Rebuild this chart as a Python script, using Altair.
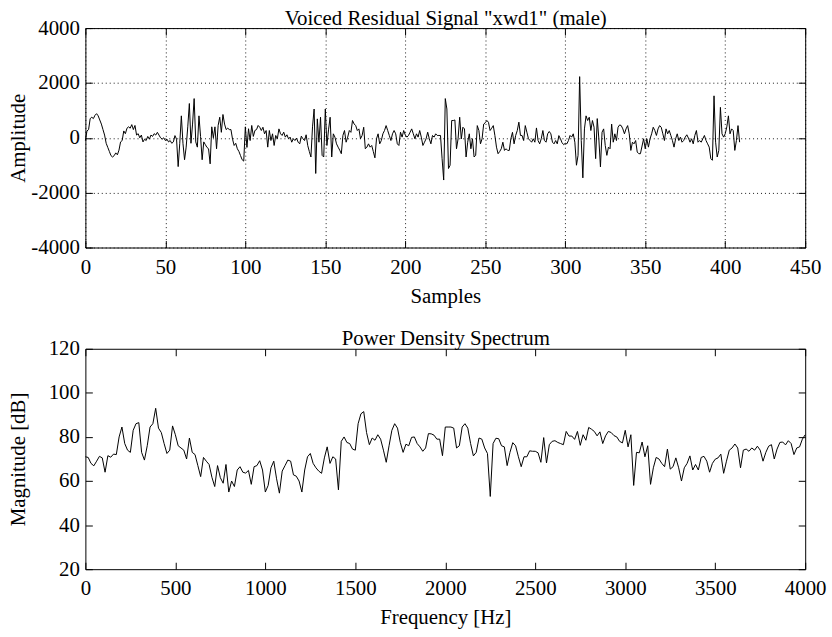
import altair as alt
import pandas as pd

FONT = "Liberation Serif"
FS = 21

# ---- top panel: voiced residual signal (amplitude per sample) ----
residual = [
    -100, 250, 300, 700, 750, 700, 820, 880, 800, 650,
    500, 300, 100, -200, -350, -500, -650, -700, -650, -550,
    -620, -450, -150, -100, 250, 150, 350, 400, 350, 480,
    300, 450, 100, 150, 0, 100, -150, -50, -100, 50,
    -50, 100, 50, 150, 100, 200, 100, 0, -50, 0,
    -100, -50, -150, -100, -200, -150, 80, -50, -1050, -200,
    800, -200, -800, -340, 400, 1250, -200, 500, 1430, -150,
    -340, 800, 50, -800, -150, -250, -350, -400, -950, 400,
    0, 400, -400, 450, 750, 200, 850, 500, 300, 350,
    300, 300, -50, -280, -200, -400, -500, -650, -800, -850,
    400, -350, 330, -100, 450, 50, 270, 300, 450, 385,
    265, 385, 145, 265, -340, 265, -100, 145, -280, 85,
    -35, 325, 145, 85, 205, 25, 110, -35, 25, -160,
    -35, -100, -10, -160, -220, 60, -35, -100, 110, -280,
    -500, -700, 400, 1050, -1300, 690, -160, 750, -640, -700,
    1050, -280, 290, 750, -700, 145, 25, -220, -340, -450,
    -580, 85, 265, -160, 25, 265, 200, 630, 505, 445,
    265, 325, -35, 85, 385, -400, -340, -220, -340, -280,
    -500, -730, -35, 145, -220, -100, 145, 265, 445, 265,
    85, -100, 145, 265, 145, -220, -280, 205, 25, 265,
    100, 25, 85, 205, 325, 145, -35, 145, 25, 265,
    25, -280, -160, -35, 205, -35, -220, 85, 25, 145,
    85, 85, 85, -760, -1540, 1430, 1050, -1120, -1000, 630,
    630, 650, -400, -35, 750, -40, 385, 325, -700, -160,
    145, -400, -35, -700, -640, 445, 265, -220, -35, 500,
    550, 630, 565, 265, 350, 445, 85, -340, -580, -500,
    -400, -160, -460, -400, -460, -460, -35, 200, -220, 85,
    265, 570, 85, 85, -100, 445, 205, -35, -100, -160,
    -35, -160, 360, -100, -220, -35, 265, -100, -160, 145,
    230, 145, -160, -220, -100, -220, 80, -35, -180, -250,
    -200, -220, -100, 85, 25, 145, -160, -1000, -640, 2230,
    -100, -1460, 325, 800, 630, 750, 265, 630, 385, -760,
    700, -35, -1060, 205, 325, -280, -640, -340, -400, 500,
    -160, 145, -100, 385, 470, 445, 325, 145, 325, 445,
    145, -460, -160, -220, -100, -520, -580, -580, -300, -35,
    -400, -35, -340, -35, 145, 385, 265, 85, 325, 445,
    385, 145, -100, 325, 145, 265, 85, -100, -340, -35,
    145, -100, 25, -160, -100, 25, 110, -10, -160, -35,
    -220, 85, 265, -160, -100, -160, -35, 85, -100, -220,
    -340, -760, -820, 1530, -160, -700, -460, 1110, 145, 25,
    145, 400, 800, 145, 325, 265, -460, -100, 445, -160,
]

# ---- bottom panel: power density spectrum in dB (257 bins, 0..4000 Hz) ----
spectrum_db = [
    71, 70.7, 68, 66.9, 69, 71.2, 70.5, 64, 71.5, 70.8,
    72.2, 72, 80, 84.5, 77, 74, 73, 83, 86, 86.5,
    73, 69.5, 76, 84.5, 86, 93, 84, 82, 77, 72.5,
    74, 85, 81, 76, 75, 74, 70, 79.5, 73, 72,
    67, 62, 70.7, 69, 67.5, 61.7, 57.5, 67, 61.5, 59,
    67.5, 55, 60, 57.5, 65, 66.5, 64, 63.6, 64.8, 58.5,
    66.5, 67, 69.2, 65, 55, 58, 66, 69, 61, 54.5,
    64.5, 67, 69.5, 69, 62.8, 62.2, 60, 55, 65, 71,
    72.5, 68, 66, 64.5, 63.5, 70.5, 75.5, 68, 71, 70,
    56, 78, 80, 77.5, 77, 74.5, 74, 86, 90.5, 91.5,
    82, 76.5, 79.5, 78.5, 81, 79, 74, 68.5, 76, 83,
    86, 84, 77.5, 73, 76.7, 76, 79.8, 80, 77, 75.5,
    73.5, 75, 81.5, 81.4, 80.8, 79, 79, 71.5, 84.5, 84.5,
    84.5, 84, 75, 76, 84.5, 86, 84, 77, 71.4, 73,
    79.5, 79, 75, 72.5, 53, 77, 79.4, 79.2, 76, 75.5,
    67, 73, 77.4, 76, 71, 66.5, 71, 71, 73.7, 73.5,
    73.5, 72.8, 68.5, 79.7, 68.2, 76.5, 78, 78.3, 77.5, 77,
    76.5, 82.5, 80.4, 80.4, 78.9, 82.5, 76.2, 81, 78.5, 84.3,
    83.5, 82.5, 80.5, 82.3, 77, 80.5, 82.5, 82, 80.6, 80,
    78, 77.3, 83, 75.5, 81, 58, 73, 72.8, 77.7, 71,
    76, 58.5, 66, 70.7, 70, 68, 66.5, 74.5, 65.4, 66.5,
    70.5, 66, 60, 66, 68, 71.4, 65, 67.5, 65, 70.7,
    71.2, 69, 64, 68, 69.9, 70.5, 72.2, 63.5, 69, 74,
    75, 76.8, 75, 66, 74, 74.5, 73.5, 75, 74, 75.8,
    74, 69, 73, 75.8, 76.5, 70, 74.5, 77.5, 77.7, 76.4,
    78.3, 77, 72, 75, 75.5, 79, 81,
]

samples = list(range(len(residual)))
freq_hz = [k * 4000 / 256 for k in range(len(spectrum_db))]

top_x_ticks = [0, 50, 100, 150, 200, 250, 300, 350, 400, 450]
top_y_ticks = [-4000, -2000, 0, 2000, 4000]
bot_x_ticks = [0, 500, 1000, 1500, 2000, 2500, 3000, 3500, 4000]
bot_y_ticks = [20, 40, 60, 80, 100, 120]

df_top = pd.DataFrame({"n": samples, "amp": residual})
df_bot = pd.DataFrame({"f": freq_hz, "db": spectrum_db})

W = 725
H1 = 221
H2 = 222
T = 7  # inward tick length


def axis(orient, values, labels=True, grid=False, **extra):
    kw = dict(
        orient=orient, values=values, offset=-T, tickSize=T, tickColor="#000",
        tickWidth=1, domain=False, labels=labels, grid=grid,
        labelExpr="'' + datum.value",
        labelFont=FONT, labelFontSize=FS, labelColor="#000",
        labelFlush=False, labelOverlap=False, labelBound=False,
        titleFont=FONT, titleFontSize=FS, titleFontWeight="normal", titleColor="#000",
    )
    if grid:
        kw.update(gridColor="#000", gridDash=[1, 3], gridWidth=1, gridOpacity=0.9)
    if orient in ("bottom", "top"):
        kw.update(labelPadding=9)
    else:
        kw.update(labelPadding=6)
    kw.update(extra)
    return alt.Axis(**kw)


def panel(df, xf, yf, xdom, ydom, xt, yt, h, title, xtitle, ytitle, grid):
    xs = alt.Scale(domain=xdom, nice=False, zero=False)
    ys = alt.Scale(domain=ydom, nice=False, zero=False)
    main = alt.Chart(df).mark_line(color="#000", strokeWidth=1).encode(
        x=alt.X(f"{xf}:Q", scale=xs, title=xtitle,
                axis=axis("bottom", xt, grid=grid, titleBaseline="alphabetic",
                          titleY=62, titleX=W / 2)),
        y=alt.Y(f"{yf}:Q", scale=ys, title=ytitle,
                axis=axis("left", yt, grid=grid, titleAngle=-90, titleBaseline="middle",
                          titleX=-74, titleY=h / 2)),
    )
    ghost = alt.Chart(df).mark_line(color="#000", opacity=0).encode(
        x=alt.X(f"{xf}:Q", scale=xs, title=title,
                axis=axis("top", xt, labels=False, titleBaseline="alphabetic",
                          titleX=W / 2, titleY=-11)),
        y=alt.Y(f"{yf}:Q", scale=ys, title=None, axis=axis("right", yt, labels=False)),
    )
    return alt.layer(main, ghost).resolve_axis(x="independent", y="independent").properties(
        width=W, height=h,
    )


top = panel(df_top, "n", "amp", [0, 450], [-4000, 4000], top_x_ticks, top_y_ticks, H1,
            'Voiced Residual Signal "xwd1" (male)', "Samples", "Amplitude", True)
bot = panel(df_bot, "f", "db", [0, 4000], [20, 120], bot_x_ticks, bot_y_ticks, H2,
            "Power Density Spectrum", "Frequency [Hz]", "Magnitude [dB]", False)

chart = alt.vconcat(top, bot, spacing=102, bounds="flush").properties(
    padding={"left": 7, "top": 4, "right": 5, "bottom": 5},
    background="#ffffff",
).configure_view(stroke="#000", strokeWidth=1)

chart.save("out.html", embed_options={"renderer": "svg", "actions": False})
